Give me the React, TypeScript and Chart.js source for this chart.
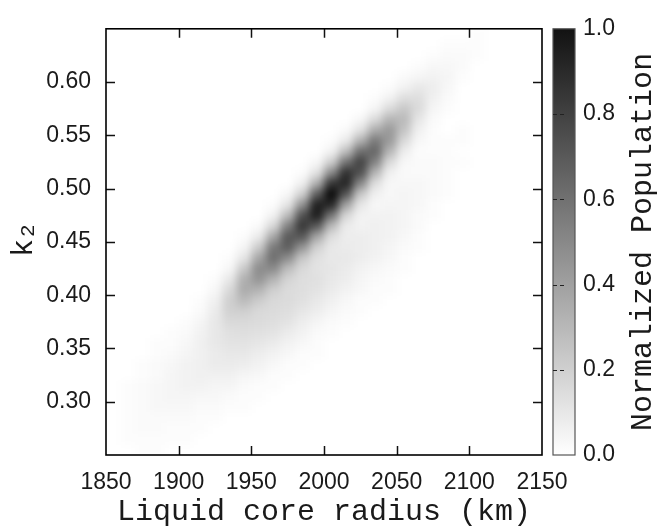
import React, { useEffect, useRef } from "react";
import { Chart, registerables } from "chart.js";

Chart.register(...registerables);

// ---- axes ----
const X_MIN = 1850;
const X_MAX = 2150;
const Y_MIN = 0.25;
const Y_MAX = 0.65;
const X_TICKS = [1850, 1900, 1950, 2000, 2050, 2100, 2150];
const Y_TICKS = [0.3, 0.35, 0.4, 0.45, 0.5, 0.55, 0.6];
const CB_TICKS = [0, 0.2, 0.4, 0.6, 0.8, 1.0];

// ---- histogram bins ----
const X_BIN = 10; // km
const Y_BIN = 0.01;
const X_CENTERS = [
  1855, 1865, 1875, 1885, 1895, 1905, 1915, 1925, 1935, 1945,
  1955, 1965, 1975, 1985, 1995, 2005, 2015, 2025, 2035, 2045,
  2055, 2065, 2075, 2085, 2095, 2105, 2115, 2125, 2135, 2145,
];
const Y_CENTERS = [
  0.645, 0.635, 0.625, 0.615, 0.605, 0.595, 0.585, 0.575, 0.565, 0.555,
  0.545, 0.535, 0.525, 0.515, 0.505, 0.495, 0.485, 0.475, 0.465, 0.455,
  0.445, 0.435, 0.425, 0.415, 0.405, 0.395, 0.385, 0.375, 0.365, 0.355,
  0.345, 0.335, 0.325, 0.315, 0.305, 0.295, 0.285, 0.275, 0.265, 0.255,
];

// Normalized population (percent), one row per Y_CENTERS entry, one column per X_CENTERS entry
const POPULATION_PCT: number[][] = [
  [0,0,0,0,0, 0,0,0,0,0, 0,0,0,0,0, 0,0,0,0,0, 0,0,0,0,0, 1,0,0,0,0],
  [0,0,0,0,0, 0,0,0,0,0, 0,0,0,0,0, 0,0,0,0,0, 0,0,0,1,1, 1,0,0,0,0],
  [0,0,0,0,0, 0,0,0,0,0, 0,0,0,0,0, 0,0,0,0,0, 0,0,1,2,2, 1,0,0,0,0],
  [0,0,0,0,0, 0,0,0,0,0, 0,0,0,0,0, 0,0,0,0,0, 0,1,3,3,2, 0,0,0,0,0],
  [0,0,0,0,0, 0,0,0,0,0, 0,0,0,0,0, 0,0,0,0,0, 2,4,5,4,1, 0,0,0,0,0],
  [0,0,0,0,0, 0,0,0,0,0, 0,0,0,0,0, 0,0,0,0,1, 5,9,7,3,0, 0,0,0,0,0],
  [0,0,0,0,0, 0,0,0,0,0, 0,0,0,0,0, 0,0,0,1,5, 13,13,6,2,0, 0,0,0,0,0],
  [0,0,0,0,0, 0,0,0,0,0, 0,0,0,0,0, 0,0,0,4,14, 22,14,4,1,0, 0,0,0,0,0],
  [0,0,0,0,0, 0,0,0,0,0, 0,0,0,0,0, 0,0,3,14,29, 27,10,2,0,0, 0,0,0,0,0],
  [0,0,0,0,0, 0,0,0,0,0, 0,0,0,0,0, 0,2,11,32,40, 23,6,1,0,1, 0,0,0,0,0],
  [0,0,0,0,0, 0,0,0,0,0, 0,0,0,0,0, 1,8,30,52,40, 15,3,1,1,1, 0,0,0,0,0],
  [0,0,0,0,0, 0,0,0,0,0, 0,0,0,0,0, 5,25,56,60,29, 7,1,1,1,0, 0,0,0,0,0],
  [0,0,0,0,0, 0,0,0,0,0, 0,0,0,0,3, 19,54,74,49,15, 3,2,2,1,1, 0,0,0,0,0],
  [0,0,0,0,0, 0,0,0,0,0, 0,0,0,1,11, 45,81,69,29,6, 2,2,2,1,0, 0,0,0,0,0],
  [0,0,0,0,0, 0,0,0,0,0, 0,0,0,6,31, 79,86,47,13,3, 3,3,2,1,0, 0,0,0,0,0],
  [0,0,0,0,0, 0,0,0,0,0, 0,0,3,18,63, 97,67,22,6,3, 4,3,2,1,0, 0,0,0,0,0],
  [0,0,0,0,0, 0,0,0,0,0, 0,1,10,42,88, 85,37,10,3,4, 4,3,1,0,0, 0,0,0,0,0],
  [0,0,0,0,0, 0,0,0,0,0, 0,5,26,68,89, 54,16,5,5,5, 4,2,1,0,0, 0,0,0,0,0],
  [0,0,0,0,0, 0,0,0,0,0, 2,15,49,79,65, 27,8,5,6,5, 4,2,0,0,0, 0,0,0,0,0],
  [0,0,0,0,0, 0,0,0,0,1, 8,34,65,66,35, 13,7,7,6,5, 3,1,0,0,0, 0,0,0,0,0],
  [0,0,0,0,0, 0,0,0,0,4, 20,52,63,42,18, 9,8,7,6,4, 2,1,0,0,0, 0,0,0,0,0],
  [0,0,0,0,0, 0,0,0,1,10, 35,57,45,22,12, 9,9,7,5,3, 1,0,0,0,0, 0,0,0,0,0],
  [0,0,0,0,0, 0,0,0,3,21, 45,46,26,15,11, 10,8,5,3,2, 1,0,0,0,0, 0,0,0,0,0],
  [0,0,0,0,0, 0,0,1,9,31, 42,30,17,13,12, 9,7,4,2,1, 0,0,0,0,0, 0,0,0,0,0],
  [0,0,0,0,0, 0,0,3,15,33, 30,19,14,13,11, 8,5,3,1,1, 0,0,0,0,0, 0,0,0,0,0],
  [0,0,0,0,0, 0,1,6,19,27, 20,15,14,12,9, 6,3,1,1,0, 0,0,0,0,0, 0,0,0,0,0],
  [0,0,0,0,0, 0,2,8,18,19, 15,14,13,10,7, 4,2,1,0,0, 0,0,0,0,0, 0,0,0,0,0],
  [0,0,0,0,0, 1,4,9,15,15, 14,13,11,7,4, 2,1,0,0,0, 0,0,0,0,0, 0,0,0,0,0],
  [0,0,0,0,1, 2,5,9,12,13, 12,11,8,5,2, 1,0,0,0,0, 0,0,0,0,0, 0,0,0,0,0],
  [0,0,0,1,1, 3,6,9,11,11, 10,8,5,3,1, 0,0,0,0,0, 0,0,0,0,0, 0,0,0,0,0],
  [0,0,0,1,2, 4,6,8,9,9, 7,5,3,1,1, 0,0,0,0,0, 0,0,0,0,0, 0,0,0,0,0],
  [0,0,1,2,3, 5,6,8,8,7, 5,3,1,1,0, 0,0,0,0,0, 0,0,0,0,0, 0,0,0,0,0],
  [0,0,1,2,4, 5,6,6,6,4, 3,1,1,0,0, 0,0,0,0,0, 0,0,0,0,0, 0,0,0,0,0],
  [0,1,2,3,4, 5,5,4,4,2, 1,1,0,0,0, 0,0,0,0,0, 0,0,0,0,0, 0,0,0,0,0],
  [0,1,2,3,4, 4,3,3,2,1, 1,0,0,0,0, 0,0,0,0,0, 0,0,0,0,0, 0,0,0,0,0],
  [0,1,2,3,3, 3,2,2,1,1, 0,0,0,0,0, 0,0,0,0,0, 0,0,0,0,0, 0,0,0,0,0],
  [0,1,2,2,2, 2,1,1,0,0, 0,0,0,0,0, 0,0,0,0,0, 0,0,0,0,0, 0,0,0,0,0],
  [0,1,2,2,1, 1,1,0,0,0, 0,0,0,0,0, 0,0,0,0,0, 0,0,0,0,0, 0,0,0,0,0],
  [0,1,1,1,1, 1,0,0,0,0, 0,0,0,0,0, 0,0,0,0,0, 0,0,0,0,0, 0,0,0,0,0],
  [0,0,1,1,0, 0,0,0,0,0, 0,0,0,0,0, 0,0,0,0,0, 0,0,0,0,0, 0,0,0,0,0],
];

const X_TITLE = "Liquid core radius (km)";
const Y_TITLE_MAIN = "k";
const Y_TITLE_SUB = "2";
const CB_TITLE = "Normalized Population";

const TEXT_COLOR = "#1a1a1a";
const SANS = "'Liberation Sans', Arial, sans-serif";
const MONO = "'Liberation Mono', 'Courier New', monospace";

const grayFor = (v: number) => {
  const g = Math.round(255 * (1 - Math.max(0, Math.min(1, v))));
  return `rgb(${g},${g},${g})`;
};

const heatmapPlugin = {
  id: "heatmap",
  beforeDatasetsDraw(chart: any) {
    const { ctx, chartArea, scales } = chart;
    const xs = scales.x;
    const ys = scales.y;
    const off = document.createElement("canvas");
    off.width = chart.width;
    off.height = chart.height;
    const octx = off.getContext("2d")!;
    octx.fillStyle = "#ffffff";
    octx.fillRect(0, 0, off.width, off.height);
    for (let r = 0; r < Y_CENTERS.length; r++) {
      for (let c = 0; c < X_CENTERS.length; c++) {
        const v = POPULATION_PCT[r][c] / 100;
        if (v <= 0) continue;
        const x0 = xs.getPixelForValue(X_CENTERS[c] - X_BIN / 2);
        const x1 = xs.getPixelForValue(X_CENTERS[c] + X_BIN / 2);
        const y0 = ys.getPixelForValue(Y_CENTERS[r] + Y_BIN / 2);
        const y1 = ys.getPixelForValue(Y_CENTERS[r] - Y_BIN / 2);
        octx.fillStyle = grayFor(v);
        octx.fillRect(x0, y0, x1 - x0 + 0.6, y1 - y0 + 0.6);
      }
    }
    ctx.save();
    ctx.beginPath();
    ctx.rect(chartArea.left, chartArea.top, chartArea.right - chartArea.left, chartArea.bottom - chartArea.top);
    ctx.clip();
    (ctx as any).filter = "blur(4px)";
    ctx.drawImage(off, 0, 0);
    (ctx as any).filter = "none";
    ctx.restore();
  },
};

const framePlugin = {
  id: "frame",
  afterDraw(chart: any) {
    const { ctx, chartArea, scales } = chart;
    const { left, right, top, bottom } = chartArea;
    const xs = scales.x;
    const ys = scales.y;
    const tickLen = 9;
    ctx.save();
    // ticks
    ctx.strokeStyle = "#111";
    ctx.lineWidth = 1.5;
    ctx.beginPath();
    X_TICKS.forEach((v) => {
      if (v <= X_MIN || v >= X_MAX) return;
      const px = Math.round(xs.getPixelForValue(v)) + 0.5;
      ctx.moveTo(px, bottom);
      ctx.lineTo(px, bottom - tickLen);
      ctx.moveTo(px, top);
      ctx.lineTo(px, top + tickLen);
    });
    Y_TICKS.forEach((v) => {
      const py = Math.round(ys.getPixelForValue(v)) + 0.5;
      ctx.moveTo(left, py);
      ctx.lineTo(left + tickLen, py);
      ctx.moveTo(right, py);
      ctx.lineTo(right - tickLen, py);
    });
    ctx.stroke();
    // frame
    ctx.strokeStyle = "#000";
    ctx.lineWidth = 1.6;
    ctx.strokeRect(left, top, right - left, bottom - top);

    // y title: k with subscript 2
    ctx.fillStyle = TEXT_COLOR;
    ctx.translate(32, (top + bottom) / 2);
    ctx.rotate(-Math.PI / 2);
    ctx.textBaseline = "alphabetic";
    ctx.textAlign = "left";
    ctx.font = `30px ${MONO}`;
    ctx.fillText(Y_TITLE_MAIN, -15, 0);
    ctx.font = `21px ${MONO}`;
    ctx.fillText(Y_TITLE_SUB, 5, 2);
    ctx.restore();

    // colour bar
    const cbLeft = right + 11;
    const cbWidth = 22;
    ctx.save();
    const grad = ctx.createLinearGradient(0, bottom, 0, top);
    grad.addColorStop(0, grayFor(CB_TICKS[0]));
    grad.addColorStop(1, grayFor(CB_TICKS[CB_TICKS.length - 1] * 0.93));
    ctx.fillStyle = grad;
    ctx.fillRect(cbLeft, top, cbWidth, bottom - top);
    ctx.strokeStyle = "#555";
    ctx.lineWidth = 1.2;
    ctx.strokeRect(cbLeft, top, cbWidth, bottom - top);
    const cbPix = (v: number) => bottom - (v - CB_TICKS[0]) / (CB_TICKS[CB_TICKS.length - 1] - CB_TICKS[0]) * (bottom - top);
    ctx.strokeStyle = "#222";
    ctx.lineWidth = 1.2;
    ctx.setLineDash([4, 3]);
    ctx.beginPath();
    CB_TICKS.forEach((v, i) => {
      if (i === 0 || i === CB_TICKS.length - 1) return;
      const py = Math.round(cbPix(v)) + 0.5;
      ctx.moveTo(cbLeft, py);
      ctx.lineTo(cbLeft + 11, py);
    });
    ctx.stroke();
    ctx.setLineDash([]);
    ctx.fillStyle = TEXT_COLOR;
    ctx.font = `23px ${SANS}`;
    ctx.textAlign = "left";
    ctx.textBaseline = "middle";
    CB_TICKS.forEach((v) => {
      ctx.fillText(v.toFixed(1), cbLeft + cbWidth + 8, cbPix(v));
    });
    // colour bar title
    ctx.translate(651, (top + bottom) / 2);
    ctx.rotate(-Math.PI / 2);
    ctx.font = `30px ${MONO}`;
    ctx.textAlign = "center";
    ctx.textBaseline = "alphabetic";
    ctx.fillText(CB_TITLE, 0, 0);
    ctx.restore();
  },
};

export default function App() {
  const canvasRef = useRef<HTMLCanvasElement | null>(null);
  useEffect(() => {
    if (!canvasRef.current) return;
    const chart = new Chart(canvasRef.current, {
      type: "scatter",
      data: { datasets: [{ data: [], pointRadius: 0 }] },
      options: {
        responsive: false,
        animation: false,
        devicePixelRatio: 1,
        layout: { padding: { left: 0, top: 19, right: 116, bottom: 0 } },
        plugins: { legend: { display: false }, tooltip: { enabled: false } },
        scales: {
          x: {
            type: "linear",
            min: X_MIN,
            max: X_MAX,
            afterFit: (s: any) => {
              s.height = 72;
            },
            afterBuildTicks: (s: any) => {
              s.ticks = X_TICKS.map((v) => ({ value: v }));
            },
            grid: { display: false, drawTicks: false },
            border: { display: false },
            ticks: {
              autoSkip: false,
              maxRotation: 0,
              padding: 14,
              color: TEXT_COLOR,
              font: { family: SANS, size: 23 },
              callback: (v: any) => String(v),
            },
            title: {
              display: true,
              text: X_TITLE,
              color: TEXT_COLOR,
              font: { family: MONO, size: 30, lineHeight: 1 },
              padding: { top: 0, bottom: 0 },
            },
          },
          y: {
            type: "linear",
            min: Y_MIN,
            max: Y_MAX,
            afterFit: (s: any) => {
              s.width = 106;
            },
            afterBuildTicks: (s: any) => {
              s.ticks = Y_TICKS.map((v) => ({ value: v }));
            },
            grid: { display: false, drawTicks: false },
            border: { display: false },
            ticks: {
              autoSkip: false,
              padding: 15,
              color: TEXT_COLOR,
              font: { family: SANS, size: 23 },
              callback: (v: any) => Number(v).toFixed(2),
            },
          },
        },
      },
      plugins: [heatmapPlugin, framePlugin],
    } as any);
    return () => chart.destroy();
  }, []);
  return (
    <div style={{ position: "fixed", left: 0, top: 0, width: 658, height: 527, background: "#fff" }}>
      <canvas ref={canvasRef} width={658} height={527} style={{ display: "block" }} />
    </div>
  );
}
